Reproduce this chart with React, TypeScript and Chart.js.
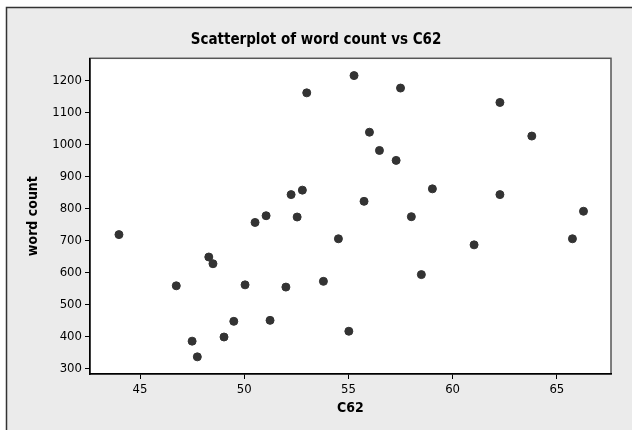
import React, { useEffect, useRef } from "react";
import { Chart, registerables } from "chart.js";

Chart.register(...registerables);

// ---- data ----
const c62: number[] = [
  43.99, 46.74, 47.5, 47.75, 48.3, 48.5, 49.03, 49.5, 50.04, 50.52, 51.05, 51.24,
  52.0, 52.25, 52.54, 52.79, 53.0, 53.8, 54.52, 55.02, 55.27, 55.75, 56.01, 56.49,
  57.29, 57.5, 58.02, 58.5, 59.03, 61.03, 62.27, 62.27, 63.8, 65.75, 66.28,
];
const wordCount: number[] = [
  719, 559, 386, 337, 649, 628, 399, 448, 562, 757, 778, 451,
  555, 844, 774, 858, 1162, 573, 706, 417, 1216, 823, 1039, 982,
  951, 1177, 775, 594, 862, 687, 1132, 844, 1027, 706, 792,
];
const xTicks: number[] = [45, 50, 55, 60, 65];
const yTicks: number[] = [300, 400, 500, 600, 700, 800, 900, 1000, 1100, 1200];
const titleText = "Scatterplot of word count vs C62";
const xTitle = "C62";
const yTitle = "word count";

const FONT = "'DejaVu Sans Condensed', 'DejaVu Sans', sans-serif";

const framePlugin = {
  id: "frame",
  beforeDraw(chart: any) {
    const { ctx, width, height, chartArea } = chart;
    ctx.save();
    ctx.fillStyle = "#ffffff";
    ctx.fillRect(0, 0, width, height);
    ctx.fillStyle = "#ebebeb";
    ctx.fillRect(6, 7, width, height);
    ctx.strokeStyle = "#333333";
    ctx.lineWidth = 1.5;
    ctx.beginPath();
    ctx.moveTo(6.5, height + 2);
    ctx.lineTo(6.5, 7.5);
    ctx.lineTo(width + 2, 7.5);
    ctx.stroke();
    const { left, top, right, bottom } = chartArea;
    ctx.fillStyle = "#ffffff";
    ctx.fillRect(left, top, right - left, bottom - top);
    ctx.strokeStyle = "#555555";
    ctx.lineWidth = 1.5;
    ctx.strokeRect(left, top, right - left, bottom - top);
    ctx.restore();
  },
};

export default function App() {
  const ref = useRef<HTMLCanvasElement | null>(null);
  useEffect(() => {
    if (!ref.current) return;
    const chart = new Chart(ref.current, {
      type: "scatter",
      data: {
        datasets: [
          {
            label: yTitle,
            data: c62.map((x, i) => ({ x, y: wordCount[i] })),
            backgroundColor: "#333333",
            borderColor: "#333333",
            borderWidth: 1,
            pointRadius: 4,
            pointHoverRadius: 4,
          },
        ],
      },
      options: {
        animation: false,
        responsive: false,
        layout: { padding: 0 },
        plugins: {
          legend: { display: false },
          tooltip: { enabled: false },
          title: {
            display: true,
            text: titleText,
            color: "#000000",
            font: { family: FONT, size: 15, weight: "bold" },
            padding: { top: 30.7, bottom: 9.6 },
          },
        },
        scales: {
          x: {
            type: "linear",
            min: 42.6,
            max: 67.6,
            afterBuildTicks: (s: any) => {
              s.ticks = xTicks.map((v) => ({ value: v }));
            },
            afterFit: (s: any) => {
              s.height = 56;
            },
            grid: {
              display: true,
              drawOnChartArea: false,
              drawTicks: true,
              tickLength: 5,
              color: "#000000",
              lineWidth: 1,
            },
            border: { display: true, color: "#000000", width: 1.5 },
            ticks: {
              font: { family: FONT, size: 13 },
              color: "#000000",
              padding: 3,
              maxRotation: 0,
              autoSkip: false,
              callback: (v: any) => String(v),
            },
            title: {
              display: true,
              text: xTitle,
              color: "#000000",
              font: { family: FONT, size: 14, weight: "bold" },
              padding: { top: 0, bottom: 13 },
            },
          },
          y: {
            type: "linear",
            position: "left",
            min: 283.4,
            max: 1270,
            afterBuildTicks: (s: any) => {
              s.ticks = yTicks.map((v) => ({ value: v }));
            },
            afterFit: (s: any) => {
              s.width = 90;
            },
            grid: {
              display: true,
              drawOnChartArea: false,
              drawTicks: true,
              tickLength: 5,
              color: "#000000",
              lineWidth: 1,
            },
            border: { display: true, color: "#000000", width: 1.5 },
            ticks: {
              font: { family: FONT, size: 13 },
              color: "#000000",
              padding: 3,
              autoSkip: false,
              callback: (v: any) => String(v),
            },
            title: {
              display: true,
              text: yTitle,
              color: "#000000",
              font: { family: FONT, size: 14, weight: "bold" },
              padding: { top: 25, bottom: 0 },
            },
          },
          yRight: {
            type: "linear",
            position: "right",
            display: true,
            afterFit: (s: any) => {
              s.width = 21;
            },
            grid: { display: false },
            border: { display: false },
            ticks: { display: false },
          },
        },
      },
      plugins: [framePlugin],
    } as any);
    return () => chart.destroy();
  }, []);
  return (
    <div style={{ position: "absolute", left: 0, top: 0, width: 632, height: 430 }}>
      <canvas ref={ref} width={632} height={430} style={{ display: "block" }} />
    </div>
  );
}
